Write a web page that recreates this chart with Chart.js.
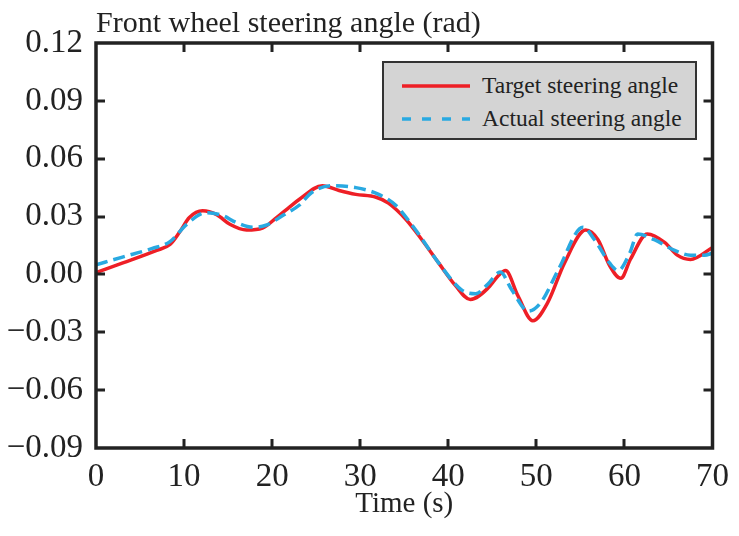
<!DOCTYPE html>
<html>
<head>
<meta charset="utf-8">
<script src="https://cdn.jsdelivr.net/npm/chart.js@4/dist/chart.umd.min.js"></script>
<style>
  html, body { margin: 0; padding: 0; background: #fff; }
  #wrap { position: relative; width: 739px; height: 536px; }
  #legend {
    position: absolute; left: 382px; top: 61px; width: 311px; height: 75px;
    background: #d4d4d4; border: 2px solid #333;
    font-family: "Liberation Serif", "Times New Roman", serif; font-size: 23.5px; color: #222;
  }
  .row { position: absolute; left: 0; height: 30px; line-height: 30px; white-space: nowrap; }
  .sample { position: absolute; left: 18px; top: 13px; }
  .lbl { position: absolute; left: 98px; top: 0; }
</style>
</head>
<body>
<div id="wrap">
  <canvas id="c" width="739" height="536"></canvas>
  <div id="legend">
    <div class="row" style="top:7px"><svg class="sample" width="68" height="6"><line x1="0" y1="3" x2="68" y2="3" stroke="#ee1f26" stroke-width="3.5"/></svg><span class="lbl">Target steering angle</span></div>
    <div class="row" style="top:40px"><svg class="sample" width="68" height="6"><line x1="0" y1="3" x2="68" y2="3" stroke="#29a9e1" stroke-width="3.5" stroke-dasharray="9 11"/></svg><span class="lbl">Actual steering angle</span></div>
  </div>
</div>
<script>
// ---- data ----
const tTarget = [0, 3.05, 6.9, 8.4, 9.5, 10.6, 12.1, 13.7, 15.2, 17.1, 18.9, 20.5, 22.0, 23.1, 25.7, 27.6, 29.5, 31.8, 33.2, 35.2, 37.0, 38.9, 40.8, 42.5, 44.6, 45.7, 46.5, 47.9, 49.6, 51.3, 53.2, 55.6, 57.0, 58.3, 59.6, 60.7, 62.6, 64.6, 66.0, 67.5, 70];
const vTarget = [0.001, 0.006, 0.0125, 0.0155, 0.022, 0.0295, 0.033, 0.031, 0.026, 0.023, 0.024, 0.0295, 0.035, 0.039, 0.046, 0.0435, 0.0415, 0.040, 0.037, 0.0285, 0.018, 0.006, -0.0057, -0.013, -0.0067, -0.0005, 0.002, -0.011, -0.024, -0.0145, 0.006, 0.023, 0.018, 0.0047, -0.002, 0.008, 0.021, 0.0165, 0.010, 0.0078, 0.014];
const tActual = [0, 3, 6.4, 8.4, 10.3, 12.5, 14.4, 15.9, 17.8, 19.3, 21.2, 23.1, 24.5, 26.8, 29.5, 32.1, 34.0, 36.3, 38.9, 41.5, 43.1, 44.5, 45.9, 47.2, 49.1, 50.6, 52.5, 55.3, 56.6, 58.3, 59.3, 60.6, 61.5, 63.4, 65.7, 67.5, 69.1, 70];
const vActual = [0.005, 0.009, 0.0135, 0.017, 0.026, 0.032, 0.0305, 0.027, 0.0245, 0.0255, 0.0305, 0.036, 0.0425, 0.046, 0.045, 0.0415, 0.036, 0.023, 0.006, -0.008, -0.010, -0.005, 0.0012, -0.008, -0.019, -0.014, 0.0025, 0.0245, 0.018, 0.006, 0.002, 0.011, 0.021, 0.018, 0.0125, 0.010, 0.010, 0.011];
const seriesNames = ["Target steering angle", "Actual steering angle"];
const xTicks = [0, 10, 20, 30, 40, 50, 60, 70];
const yTicks = [-0.09, -0.06, -0.03, 0.00, 0.03, 0.06, 0.09, 0.12];
const titleText = "Front wheel steering angle (rad)";
const xTitle = "Time (s)";

const serif = "'Liberation Serif', 'Times New Roman', serif";
const ink = "#222";

const framePlugin = {
  id: 'frame',
  afterDatasetsDraw(chart) {
    const {ctx, chartArea: a, scales: {x, y}} = chart;
    const L = 9;
    ctx.save();
    ctx.strokeStyle = ink;
    ctx.lineWidth = 3;
    ctx.lineCap = 'butt';
    ctx.beginPath();
    xTicks.forEach((v, i) => {
      if (i === 0 || i === xTicks.length - 1) return;
      const px = Math.round(x.getPixelForValue(v));
      ctx.moveTo(px, a.bottom); ctx.lineTo(px, a.bottom - L);
      ctx.moveTo(px, a.top); ctx.lineTo(px, a.top + L);
    });
    yTicks.forEach((v, i) => {
      if (i === 0 || i === yTicks.length - 1) return;
      const py = Math.round(y.getPixelForValue(v));
      ctx.moveTo(a.left, py); ctx.lineTo(a.left + L, py);
      ctx.moveTo(a.right, py); ctx.lineTo(a.right - L, py);
    });
    ctx.stroke();
    ctx.lineWidth = 3.5;
    ctx.strokeRect(a.left, a.top, a.right - a.left, a.bottom - a.top);
    ctx.restore();
  }
};

new Chart(document.getElementById('c'), {
  type: 'line',
  data: {
    datasets: [
      {
        label: seriesNames[0],
        data: tTarget.map((t, i) => ({x: t, y: vTarget[i]})),
        borderColor: '#ee1f26', borderWidth: 3.5, pointRadius: 0,
        cubicInterpolationMode: 'monotone', fill: false, order: 2
      },
      {
        label: seriesNames[1],
        data: tActual.map((t, i) => ({x: t, y: vActual[i]})),
        borderColor: '#29a9e1', borderWidth: 3.5, borderDash: [12, 6], pointRadius: 0,
        cubicInterpolationMode: 'monotone', fill: false, order: 1
      }
    ]
  },
  options: {
    responsive: false,
    animation: false,
    layout: { padding: { left: 0, right: 24, top: 0, bottom: 0 } },
    plugins: {
      legend: { display: false },
      tooltip: { enabled: false },
      title: {
        display: true, text: titleText, align: 'start', fullSize: false,
        color: ink, font: { family: serif, size: 30, weight: 'normal' },
        padding: { top: 6, bottom: 1 }
      }
    },
    scales: {
      x: {
        type: 'linear', min: 0, max: 70,
        afterBuildTicks: s => { s.ticks = xTicks.map(v => ({value: v})); },
        afterFit: s => { s.height = 88; },
        grid: { display: false, drawTicks: false },
        border: { display: false },
        ticks: { color: ink, font: { family: serif, size: 33 }, padding: 10, maxRotation: 0, autoSkip: false,
                 callback: v => String(v) },
        title: { display: true, text: xTitle, color: ink, font: { family: serif, size: 29 }, padding: { top: 0, bottom: 14 } }
      },
      y: {
        type: 'linear', min: -0.09, max: 0.12,
        afterBuildTicks: s => { s.ticks = yTicks.map(v => ({value: v})); },
        afterFit: s => { s.width = 96; },
        grid: { display: false, drawTicks: false },
        border: { display: false },
        ticks: { color: ink, font: { family: serif, size: 33 }, padding: 13, autoSkip: false,
                 callback: v => v.toFixed(2).replace('-', '\u2212') }
      }
    }
  },
  plugins: [framePlugin]
});
</script>
</body>
</html>
